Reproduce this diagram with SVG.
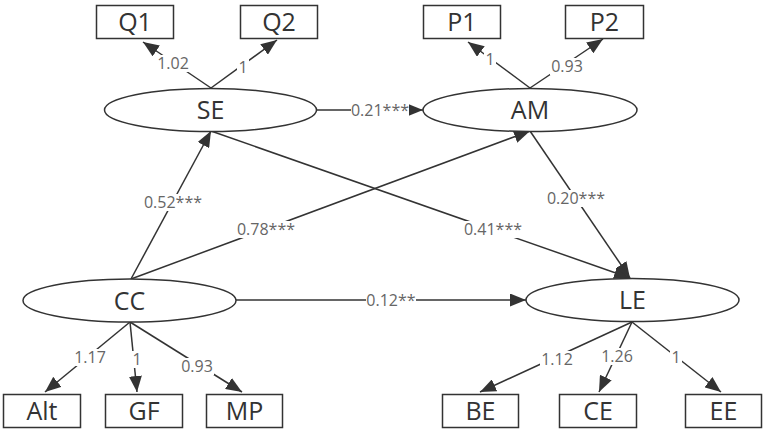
<svg xmlns="http://www.w3.org/2000/svg" width="767" height="429" viewBox="0 0 767 429">
<defs>
<marker id="arr" markerUnits="userSpaceOnUse" markerWidth="17" markerHeight="13" viewBox="0 0 17 13" refX="16" refY="6.5" orient="auto">
<path d="M0,0 L16,6.5 L0,13 Z" fill="#333"/>
</marker>
</defs>
<style>
.n{fill:#fff;stroke:#333;stroke-width:1.5}
.t{font-family:"Open Sans","Liberation Sans",sans-serif;font-size:25px;fill:#333;text-anchor:middle}
.e{stroke:#333;stroke-width:1.5;fill:none;marker-end:url(#arr)}
.b{fill:#fff}
.l{font-family:"Open Sans","Liberation Sans",sans-serif;font-size:16px;fill:#666;text-anchor:middle}
</style>
<rect width="767" height="429" fill="#fff"/>
<g id="connectors">
<line class="e" x1="211" y1="88" x2="143" y2="42"/>
<line class="e" x1="211" y1="88" x2="277" y2="40"/>
<line class="e" x1="530" y1="88" x2="468" y2="42"/>
<line class="e" x1="530" y1="88" x2="603" y2="39"/>
<line class="e" x1="317" y1="110" x2="423" y2="110"/>
<line class="e" x1="131" y1="279" x2="211" y2="131"/>
<line class="e" x1="131" y1="279" x2="530" y2="131"/>
<line class="e" x1="211" y1="131" x2="630" y2="278"/>
<line class="e" x1="530" y1="131" x2="630" y2="278"/>
<line class="e" x1="236" y1="300" x2="526" y2="300"/>
<line class="e" x1="130" y1="322" x2="45" y2="392"/>
<line class="e" x1="130" y1="322" x2="137" y2="392"/>
<line class="e" x1="130" y1="322" x2="242" y2="392"/>
<line class="e" x1="632" y1="322" x2="480" y2="392"/>
<line class="e" x1="632" y1="322" x2="599" y2="392"/>
<line class="e" x1="632" y1="322" x2="721" y2="392"/>
<rect class="b" x="156" y="55" width="34" height="17"/><text class="l" x="173" y="69">1.02</text>
<rect class="b" x="237" y="59" width="12" height="17"/><text class="l" x="243" y="72.5">1</text>
<rect class="b" x="484" y="51" width="12" height="17"/><text class="l" x="490" y="64.5">1</text>
<rect class="b" x="550" y="58" width="34" height="17"/><text class="l" x="567" y="71.5">0.93</text>
<rect class="b" x="351" y="102" width="58" height="17"/><text class="l" x="380" y="115.5">0.21***</text>
<rect class="b" x="144" y="194" width="58" height="17"/><text class="l" x="173" y="207.5">0.52***</text>
<rect class="b" x="237" y="221" width="58" height="17"/><text class="l" x="266" y="234.5">0.78***</text>
<rect class="b" x="464" y="221" width="58" height="17"/><text class="l" x="493" y="234.5">0.41***</text>
<rect class="b" x="547" y="190" width="58" height="17"/><text class="l" x="576" y="203.5">0.20***</text>
<rect class="b" x="366" y="292" width="50" height="17"/><text class="l" x="391" y="305.5">0.12**</text>
<rect class="b" x="73" y="349" width="34" height="17"/><text class="l" x="90" y="362.5">1.17</text>
<rect class="b" x="131" y="351" width="12" height="17"/><text class="l" x="137" y="364.5">1</text>
<rect class="b" x="180" y="358" width="34" height="17"/><text class="l" x="197" y="371.5">0.93</text>
<rect class="b" x="540" y="351" width="34" height="17"/><text class="l" x="557" y="364.5">1.12</text>
<rect class="b" x="600" y="348" width="34" height="17"/><text class="l" x="617" y="361.5">1.26</text>
<rect class="b" x="670" y="349" width="12" height="17"/><text class="l" x="676" y="362.5">1</text>
</g>
<g id="Q1"><rect class="n" x="96.5" y="5.5" width="77" height="33"/><text class="t" x="135" y="31">Q1</text></g>
<g id="Q2"><rect class="n" x="240.5" y="5.5" width="77" height="33"/><text class="t" x="279" y="31">Q2</text></g>
<g id="P1"><rect class="n" x="423.5" y="5.5" width="77" height="33"/><text class="t" x="462" y="31">P1</text></g>
<g id="P2"><rect class="n" x="565.5" y="5.5" width="78" height="33"/><text class="t" x="604.5" y="31">P2</text></g>
<g id="SE"><ellipse class="n" cx="210.5" cy="110" rx="106" ry="21.5"/><text class="t" x="210.5" y="119">SE</text></g>
<g id="AM"><ellipse class="n" cx="530" cy="110" rx="107" ry="21.5"/><text class="t" x="530" y="119">AM</text></g>
<g id="CC"><ellipse class="n" cx="129.5" cy="300.5" rx="106.5" ry="21.5"/><text class="t" x="129.5" y="310">CC</text></g>
<g id="LE"><ellipse class="n" cx="632.5" cy="300" rx="106.5" ry="21.5"/><text class="t" x="632.5" y="309">LE</text></g>
<g id="Alt"><rect class="n" x="3.5" y="394.5" width="77" height="33"/><text class="t" x="42" y="420">Alt</text></g>
<g id="GF"><rect class="n" x="105.5" y="394.5" width="77" height="33"/><text class="t" x="144" y="420">GF</text></g>
<g id="MP"><rect class="n" x="206.5" y="394.5" width="76" height="33"/><text class="t" x="244.5" y="420">MP</text></g>
<g id="BE"><rect class="n" x="442.5" y="394.5" width="76" height="33"/><text class="t" x="480.5" y="420">BE</text></g>
<g id="CE"><rect class="n" x="559.5" y="394.5" width="77" height="33"/><text class="t" x="598" y="420">CE</text></g>
<g id="EE"><rect class="n" x="685.5" y="394.5" width="76" height="33"/><text class="t" x="723.5" y="420">EE</text></g>
</svg>
